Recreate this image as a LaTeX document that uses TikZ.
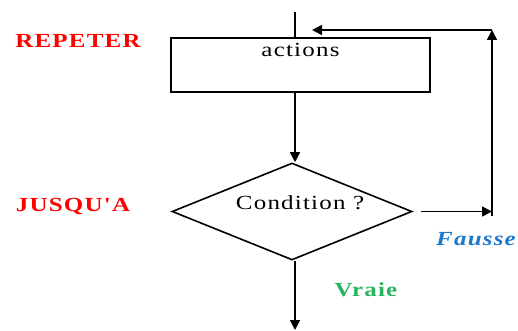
\documentclass[tikz,border=0pt]{standalone}
\usepackage{fontspec}
\setmainfont{Liberation Serif}
\newfontfamily\wideserif{Liberation Serif}[FakeStretch=1.25,LetterSpace=6]
\usetikzlibrary{arrows.meta,shapes.geometric,positioning}
\definecolor{fausseblue}{RGB}{30,120,205}
\definecolor{vraiegreen}{RGB}{40,180,95}
\begin{document}
\begin{tikzpicture}[x=1pt,y=-1pt,
    every node/.style={font=\wideserif\fontsize{20}{24}\selectfont},
    block/.style={draw,line width=1.6pt,minimum width=259pt,inner ysep=0pt,
      text height=19pt,text depth=35pt},
    test/.style={draw,diamond,line width=1.6pt,inner sep=0pt,
      minimum width=240pt,minimum height=97pt},
    keyword/.style={text=red,font=\wideserif\fontsize{20}{24}\selectfont\bfseries},
    flow/.style={line width=1.6pt,-{Triangle[length=10pt,width=10pt]}}]
  \useasboundingbox (0,0) rectangle (518,331);
      \node (actions)[block] at (300.5,65) {actions};
      \node (cond)[test] at (292,211.5) {};
      \node (condtext) at (300,203) {Condition ?};
      \node (repeter)[keyword] at (78,41) {REPETER};
      \node (jusqua)[keyword] at (73,206) {JUSQU'A};
      \node (fausse)[text=fausseblue,font=\wideserif\fontsize{20}{24}\selectfont\bfseries\itshape] at (476,239) {Fausse};
      \node (vraie)[text=vraiegreen,font=\wideserif\fontsize{20}{24}\selectfont\bfseries] at (366,290) {Vraie};
      \coordinate (entry) at (295,12);
      \coordinate (exit) at (295,330);
      \coordinate (corner1) at (492,216);
      \coordinate (corner2) at (492,30);
      \coordinate (back) at (312,30);
      \draw[line width=1.6pt] (entry) -- (entry |- actions.north);
      \draw[flow] (entry |- actions.south) -- (entry |- cond.north);
      \draw[flow] (entry |- cond.south) -- (exit);
      \draw[flow] ([xshift=8pt]cond.east) -- (cond.east -| corner1);
      \draw[flow] (corner1) -- (corner2);
      \draw[flow] (corner2) -- (back);
    \end{tikzpicture}
\end{document}
